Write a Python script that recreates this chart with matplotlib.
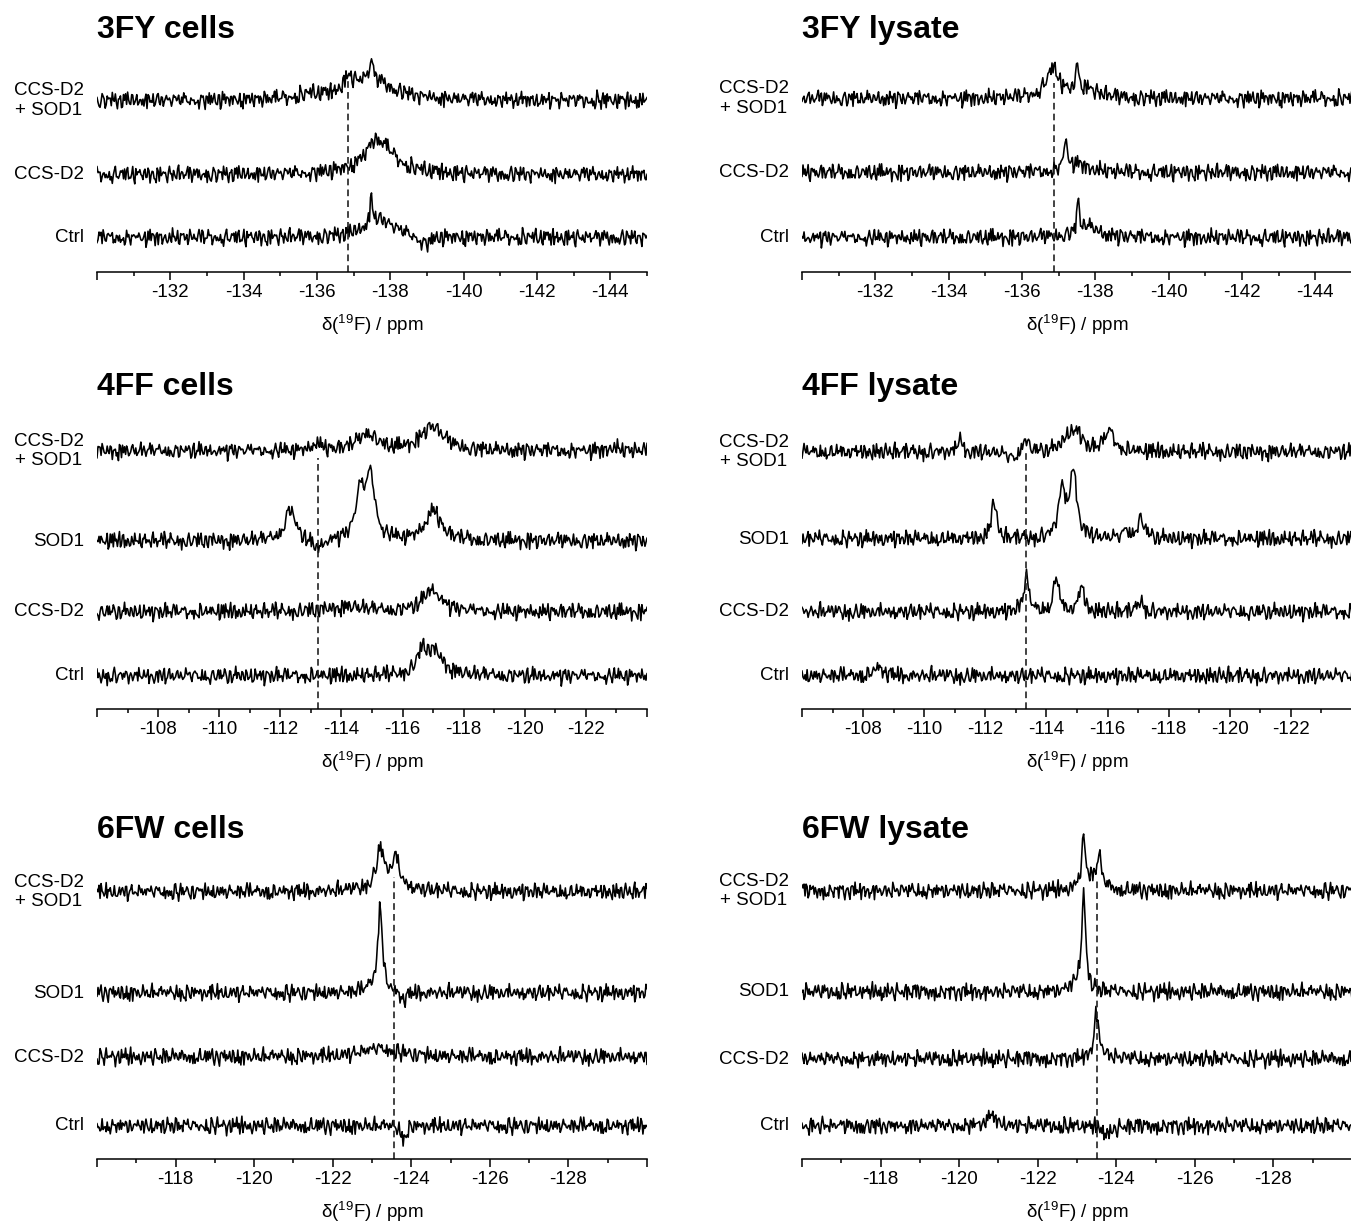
import numpy as np
import matplotlib
matplotlib.use("Agg")
import matplotlib.pyplot as plt

plt.rcParams['font.family'] = ['Liberation Sans', 'DejaVu Sans']
plt.rcParams['mathtext.fontset'] = 'custom'
plt.rcParams['mathtext.rm'] = 'Liberation Sans'

# ---- data ----
# chemical shift windows (ppm), left -> right
range_3fy = (-130, -145)
range_4ff = (-106, -124)
range_6fw = (-116, -130)

labels_3 = ['CCS-D2\n+ SOD1', 'CCS-D2', 'Ctrl']
labels_4 = ['CCS-D2\n+ SOD1', 'SOD1', 'CCS-D2', 'Ctrl']

# reference shift marked with the dashed line
ref_3fy_cells, ref_3fy_lysate = -136.85, -136.86
ref_4ff_cells, ref_4ff_lysate = -113.22, -113.33
ref_6fw_cells, ref_6fw_lysate = -123.56, -123.50

# peaks per trace: (shift ppm, intensity, width ppm)
peaks_3fy_cells = [
    [(-137.45, 22, 1.4), (-136.85, 12, 0.3), (-137.48, 20, 0.08), (-135.8, 4, 0.8)],
    [(-137.7, 32, 1.0), (-137.5, 6, 0.2)],
    [(-137.48, 26, 0.08), (-137.7, 18, 1.0), (-138.95, -8, 0.4)],
]
peaks_3fy_lysate = [
    [(-136.86, 22, 0.35), (-136.75, 8, 0.6), (-137.51, 34, 0.06), (-137.7, 10, 0.8)],
    [(-137.19, 26, 0.12), (-137.5, 8, 0.8)],
    [(-137.53, 34, 0.06), (-137.75, 12, 0.7)],
]
peaks_4ff_cells = [
    [(-113.2, 8, 0.3), (-114.84, 18, 0.7), (-116.97, 24, 0.9), (-122.9, 4, 0.3)],
    [(-112.32, 32, 0.4), (-114.61, 44, 0.35), (-114.95, 62, 0.35),
     (-117.0, 30, 0.6), (-113.2, -10, 0.4)],
    [(-116.97, 22, 0.7), (-114.2, 5, 1.5)],
    [(-116.65, 20, 0.4), (-117.05, 22, 0.7)],
]
peaks_4ff_lysate = [
    [(-111.17, 14, 0.15), (-113.31, 18, 0.2), (-114.75, 17, 0.5), (-115.05, 14, 0.3),
     (-116.06, 20, 0.4), (-112.9, -8, 0.5)],
    [(-112.28, 40, 0.18), (-114.5, 48, 0.25), (-114.88, 66, 0.28), (-116.6, 12, 0.1),
     (-117.08, 20, 0.3)],
    [(-113.34, 34, 0.2), (-114.32, 36, 0.2), (-115.15, 26, 0.2), (-117.08, 12, 0.2)],
    [(-108.5, 8, 0.4)],
]
peaks_6fw_cells = [
    [(-123.21, 34, 0.22), (-123.6, 26, 0.2), (-123.4, 10, 0.9)],
    [(-123.21, 88, 0.13), (-123.05, 6, 0.4), (-123.8, -8, 0.2)],
    [(-123.2, 8, 1.2)],
    [(-123.8, -12, 0.15)],
]
peaks_6fw_lysate = [
    [(-123.17, 46, 0.12), (-123.56, 30, 0.14), (-123.35, 8, 0.6)],
    [(-123.17, 96, 0.12), (-123.0, 8, 0.3)],
    [(-123.49, 44, 0.12), (-123.6, 6, 0.4)],
    [(-120.83, 10, 0.3), (-123.8, -8, 0.3)],
]

# baseline noise pattern (traced by hand)
noise_a = [0.3, -0.5, 0.8, -0.2, -0.9, 0.4, 0.1, -0.6, 0.7, -0.3, 0.5, -0.8, 0.2, 0.6, -0.4,
           -0.1, 0.9, -0.7, 0.3, -0.2, 0.6, -0.9, 0.4, 0.0, -0.5, 0.8, -0.3, 0.2, -0.6, 0.7,
           0.1, -0.8, 0.5, -0.4, 0.3, 0.9, -0.2, -0.7, 0.6, -0.1, 0.4, -0.5, 0.8, -0.9, 0.2,
           0.5, -0.3, 0.7, -0.6, 0.1, -0.4, 0.9, -0.8, 0.3, 0.6, -0.2, -0.5, 0.4, -0.7, 0.8,
           0.0, -0.3, 0.5, -0.9, 0.7, -0.1, 0.2, -0.6, 0.9, -0.4, 0.3, -0.8, 0.6, 0.1, -0.5,
           0.4, -0.2, 0.7, -0.9, 0.5, -0.3, 0.8, -0.6, 0.2, -0.1, 0.6, -0.7, 0.3, 0.9, -0.4,
           -0.8, 0.5, 0.1, -0.2, 0.7, -0.5, 0.4]
noise_b = [0.2, 0.5, 0.7, 0.4, 0.1, -0.3, -0.6, -0.8, -0.5, -0.2, 0.1, 0.3, 0.6, 0.9, 0.6,
           0.2, -0.1, -0.4, -0.2, 0.1, 0.4, 0.2, -0.3, -0.7, -0.9, -0.6, -0.2, 0.3, 0.5, 0.8,
           0.5, 0.0, -0.4, -0.6, -0.3, 0.2, 0.6, 0.4, 0.1, -0.2, -0.5, -0.8, -0.4, 0.0, 0.3,
           0.7, 0.9, 0.5, 0.2, -0.1, -0.3, -0.7, -0.5, -0.1, 0.4, 0.6, 0.3, -0.2, -0.6, -0.9,
           -0.5, 0.1, 0.5, 0.8, 0.6, 0.2, -0.2, -0.5, -0.3, 0.0, 0.3, 0.1, -0.4, -0.8, -0.6,
           -0.1, 0.4, 0.7, 0.4, 0.0, -0.3, -0.1, 0.2, 0.6, 0.3, -0.2, -0.6, -0.4, 0.1]

# ---- layout (pixels) ----
W, H = 1351, 1223
fig = plt.figure(figsize=(W / 100, H / 100), dpi=100)
AX_W, AX_H = 550, 340
COL_X = [97, 802]
npts = 540


def spectrum(ppm, peaks, k):
    na, nb = len(noise_a), len(noise_b)
    i = np.arange(len(ppm))
    y = 6.5 * np.array([noise_a[(j * 7 + 13 * k) % na] for j in i]) \
        + 5.0 * np.array([noise_b[(j * 3 + 29 * k) % nb] for j in i])
    for c, h, w in peaks:
        y += h / (1 + ((ppm - c) / (w / 2)) ** 2)
    return y


def panel(col, spine_y, title, xr, peaks, labels, offsets, ref, ref_top, k0):
    x0 = COL_X[col]
    ax = fig.add_axes([x0 / W, 1 - spine_y / H, AX_W / W, AX_H / H])
    ppm = np.linspace(xr[0], xr[1], npts)
    for n, (pk, off) in enumerate(zip(peaks, offsets)):
        ax.plot(ppm, off + spectrum(ppm, pk, k0 + n), color='black', lw=1.15)
        ax.text(-13 / AX_W, off, labels[n], transform=ax.get_yaxis_transform(),
                ha='right', va='center', multialignment='center', fontsize=13.5,
                linespacing=1.2)
    ax.plot([ref, ref], [0, ref_top], color='#222222', lw=1.2, dashes=(4, 2.5))
    ax.set_xlim(xr)
    ax.set_ylim(0, AX_H)
    lo, hi = max(xr), min(xr)
    majors = np.arange(lo, hi - 0.5, -2)
    minors = np.arange(lo - 1, hi - 0.5, -2)
    ax.set_xticks(majors)
    ax.set_xticklabels(['' if (m == lo or m == hi) else f'{m:.0f}' for m in majors])
    ax.set_xticks(minors, minor=True)
    ax.tick_params(axis='x', which='major', direction='out', length=5.8, width=1.1,
                   labelsize=13.5, pad=3)
    ax.tick_params(axis='x', which='minor', direction='out', length=2.6, width=1.1)
    ax.set_yticks([])
    for s in ['left', 'top', 'right']:
        ax.spines[s].set_visible(False)
    ax.spines['bottom'].set_linewidth(1.1)
    ax.patch.set_alpha(0)
    fig.text(x0 / W, 1 - (title_y[spine_y]) / H, title, fontsize=23, fontweight='bold',
             ha='left', va='center')
    fig.text((x0 + AX_W / 2) / W, 1 - (spine_y + 53) / H, r'δ($^{19}$F) / ppm',
             fontsize=13.5, ha='center', va='center')


title_y = {271.7: 30, 709: 387, 1159: 830}

panel(0, 271.7, '3FY cells', range_3fy, peaks_3fy_cells, labels_3,
      [171, 97, 34], ref_3fy_cells, 194, 0)
panel(1, 271.7, '3FY lysate', range_3fy, peaks_3fy_lysate, labels_3,
      [173, 99, 34], ref_3fy_lysate, 189, 3)
panel(0, 709, '4FF cells', range_4ff, peaks_4ff_cells, labels_4,
      [258, 168, 97, 33], ref_4ff_cells, 251, 6)
panel(1, 709, '4FF lysate', range_4ff, peaks_4ff_lysate, labels_4,
      [257, 170, 97, 33], ref_4ff_lysate, 259, 10)
panel(0, 1159, '6FW cells', range_6fw, peaks_6fw_cells, labels_4,
      [267, 166, 102, 33], ref_6fw_cells, 282, 14)
panel(1, 1159, '6FW lysate', range_6fw, peaks_6fw_lysate, labels_4,
      [268, 167, 100, 33], ref_6fw_lysate, 279, 18)

fig.savefig('out.png', dpi=100)
